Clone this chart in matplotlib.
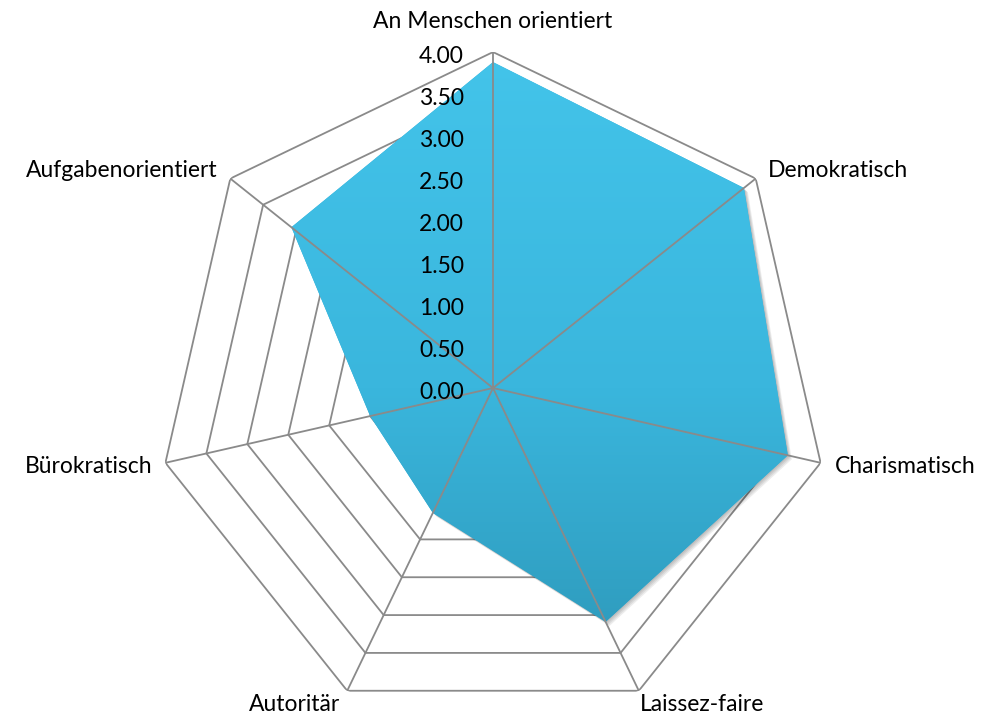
import numpy as np
import matplotlib
matplotlib.use("Agg")
import matplotlib.pyplot as plt
import matplotlib.transforms as mtransforms

plt.rcParams['font.family'] = ['Lato', 'DejaVu Sans']

# daten
kategorien = ['An Menschen orientiert', 'Demokratisch', 'Charismatisch',
              'Laissez-faire', 'Autoritär', 'Bürokratisch', 'Aufgabenorientiert']
werte = [3.88, 3.82, 3.60, 3.09, 1.65, 1.50, 3.07]
ringe = [0.5, 1.0, 1.5, 2.0, 2.5, 3.0, 3.5, 4.0]
ring_labels = ['0.00', '0.50', '1.00', '1.50', '2.00', '2.50', '3.00', '3.50', '4.00']

n = len(kategorien)
winkel = np.linspace(0, 2 * np.pi, n, endpoint=False)

fig = plt.figure(figsize=(9.88, 7.17), dpi=100)
ax = fig.add_axes([0.1589, -0.0098, 0.6802, 0.9372], projection='polar')
ax.set_theta_zero_location('N')
ax.set_theta_direction(-1)
ax.set_ylim(0, 4)
ax.grid(False)
ax.spines['polar'].set_visible(False)
ax.set_xticks([])
ax.set_yticks([])
ax.patch.set_alpha(0)

grau = '#8a8a8a'

# polygon-ringe
w_zu = np.append(winkel, winkel[0])
for r in ringe:
    ax.plot(w_zu, [r] * (n + 1), color=grau, lw=1.3, zorder=1)

# datenflaeche mit weichem schatten
v_zu = werte + [werte[0]]
for k in range(1, 5):
    tr = mtransforms.offset_copy(ax.transData, fig=fig, x=k, y=-k, units='dots')
    sh = ax.fill(w_zu, v_zu, color='black', alpha=0.07, lw=0, zorder=2)[0]
    sh.set_transform(tr)
flaeche = ax.fill(w_zu, v_zu, color='#36AED6', lw=0, zorder=3)[0]

# verlauf
verlauf = np.linspace(0, 1, 256).reshape(-1, 1)
cmap = matplotlib.colors.LinearSegmentedColormap.from_list('b', ['#2B93B3', '#3AB6DD', '#43C4EA'])
img = ax.imshow(verlauf, cmap=cmap, aspect='auto', extent=[0, 1, 0, 1],
                transform=ax.transAxes, origin='lower', zorder=3)
img.set_clip_path(flaeche)

# speichen
for w in winkel:
    ax.plot([w, w], [0, 4], color=grau, lw=1.3, zorder=4)

# achsenbeschriftung
for i, lab in enumerate(ring_labels):
    ax.annotate(lab, xy=(0, i * 0.5), xytext=(-21, -3), textcoords='offset points',
                ha='right', va='center', fontsize=16.5, zorder=5)

# kategorien
versatz = [(0, 22), (9, 6), (10, -3), (1, -10), (-5, -10), (-9, -3), (-9, 6)]
ausr = ['center', 'left', 'left', 'left', 'right', 'right', 'right']
for w, lab, (dx, dy), ha in zip(winkel, kategorien, versatz, ausr):
    ax.annotate(lab, xy=(w, 4), xytext=(dx, dy), textcoords='offset points',
                ha=ha, va='center', fontsize=16.5, annotation_clip=False)

fig.savefig('out.png', dpi=100)
